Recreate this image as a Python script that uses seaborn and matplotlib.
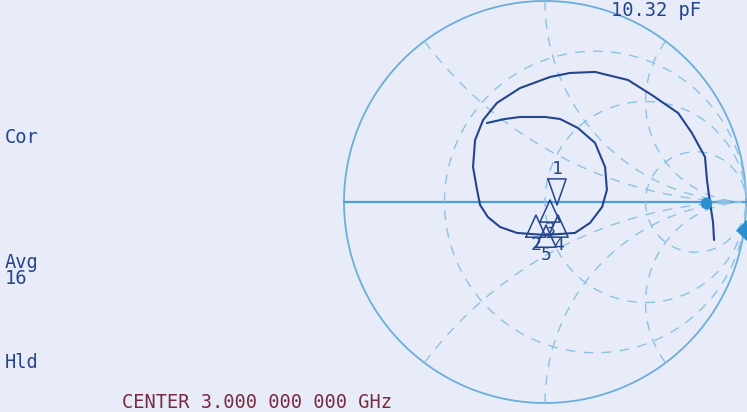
import numpy as np
import matplotlib
matplotlib.use("Agg")
import matplotlib.pyplot as plt
import seaborn as sns
import pandas as pd

trace_re = [0.841, 0.836, 0.821, 0.806, 0.796, 0.731, 0.662, 0.532, 0.413, 0.249,
            0.124, 0.025, -0.124, -0.239, -0.308, -0.348, -0.358, -0.338, -0.323,
            -0.284, -0.224, -0.139, 0.0, 0.149, 0.224, 0.284, 0.308, 0.299, 0.249,
            0.164, 0.075, 0.0, -0.124, -0.199, -0.289]
trace_im = [-0.189, -0.100, -0.005, 0.109, 0.224, 0.343, 0.443, 0.532, 0.607, 0.647,
            0.642, 0.622, 0.567, 0.493, 0.408, 0.308, 0.174, 0.060, -0.015,
            -0.075, -0.124, -0.154, -0.164, -0.154, -0.104, -0.025, 0.060, 0.174, 0.294,
            0.368, 0.413, 0.423, 0.423, 0.413, 0.393]

marker_names = ["1", "2", "3", "4", "5"]
marker_re = [0.060, -0.045, 0.025, 0.065, 0.005]
marker_im = [-0.015, -0.065, 0.010, -0.065, -0.115]

r_circles = [1 / 3, 1.0, 3.0]
x_arcs = [0.5, 1.0, 2.0, -0.5, -1.0, -2.0]

side_labels = ["Cor", "Avg\n16", "Hld"]
side_label_y = [0.32, -0.34, -0.80]

BG = "#e8ecf8"
GRID = "#8cc2e6"
NAVY = "#22458e"

sns.set_theme(style="white")
plt.rcParams["font.family"] = ["DejaVu Sans Mono", "DejaVu Sans"]

fig = plt.figure(figsize=(7.47, 4.12), dpi=100, facecolor=BG)
ax = fig.add_axes([0, 0, 1, 1])
ax.set_facecolor(BG)
ax.set_xlim(-545 / 201, 202 / 201)
ax.set_ylim(-210 / 201, 202 / 201)
ax.axis("off")

# smith chart graticule
th = np.linspace(0, 2 * np.pi, 400)
ax.plot(np.cos(th), np.sin(th), color="#6aaedb", lw=1.3)
ax.plot([-1, 1], [0, 0], color="#4f9fd6", lw=1.6)

t = np.tan(np.linspace(-np.pi / 2 + 0.01, np.pi / 2 - 0.01, 400))
for r in r_circles:
    g = ((r + 1j * t) - 1) / ((r + 1j * t) + 1)
    ax.plot(g.real, g.imag, color=GRID, lw=1.0, ls=(0, (7, 6)))

s = np.tan(np.linspace(0, np.pi / 2 - 0.01, 300))
for x in x_arcs:
    g = ((s + 1j * x) - 1) / ((s + 1j * x) + 1)
    ax.plot(g.real, g.imag, color=GRID, lw=1.0, ls=(0, (7, 6)))

# measured trace
df = pd.DataFrame({"re": trace_re, "im": trace_im})
sns.lineplot(data=df, x="re", y="im", sort=False, estimator=None, color=NAVY,
             lw=1.5, ax=ax)

# stimulus / reference blobs
ax.scatter([0.80], [-0.005], s=70, color="#2a8fcc", zorder=5, lw=0)
ax.scatter([1.0], [-0.14], s=110, marker="D", color="#2a8fcc", zorder=5, lw=0)

# markers
for i, (name, mr, mi) in enumerate(zip(marker_names, marker_re, marker_im)):
    if i == 0:
        ax.plot([mr - 0.045, mr + 0.045, mr, mr - 0.045],
                [mi + 0.13, mi + 0.13, mi, mi + 0.13], color=NAVY, lw=1.1)
        ax.text(mr, mi + 0.18, name, color=NAVY, fontsize=13, ha="center", va="center")
    else:
        ax.plot([mr - 0.05, mr + 0.05, mr, mr - 0.05],
                [mi - 0.11, mi - 0.11, mi, mi - 0.11], color=NAVY, lw=1.1)
        ax.text(mr, mi - 0.15, name, color=NAVY, fontsize=13, ha="center", va="center")

for lab, y in zip(side_labels, side_label_y):
    ax.text(-2.69, y, lab, color=NAVY, fontsize=13.5, ha="left", va="center",
            linespacing=0.8)

ax.text(-2.105, -1.043, "CENTER 3.000 000 000 GHz", color="#7a2a40", fontsize=13.5,
        ha="left", va="bottom")
ax.text(0.33, 1.0, "10.32 pF", color=NAVY, fontsize=13.5, ha="left", va="top")

fig.savefig("out.png", dpi=100, facecolor=BG)
